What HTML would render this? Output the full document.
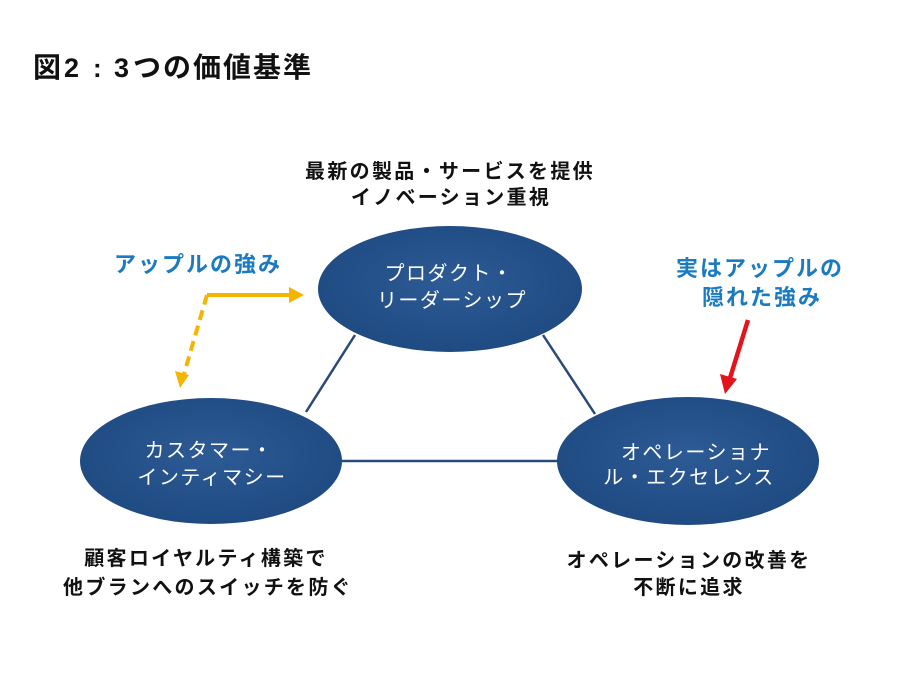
<!DOCTYPE html>
<html><head><meta charset="utf-8">
<style>
html,body{margin:0;padding:0;background:#fff;}
svg{display:block;}
text{font-family:"Liberation Sans","Noto Sans CJK JP",sans-serif;}
</style></head>
<body>
<svg width="900" height="674" viewBox="0 0 900 674" xmlns="http://www.w3.org/2000/svg">
<defs>
<radialGradient id="g" cx="50%" cy="45%" r="55%">
<stop offset="0%" stop-color="#2d5b95"/>
<stop offset="100%" stop-color="#1f4a82"/>
</radialGradient>
</defs>
<rect width="900" height="674" fill="#fff"/>
<!-- title -->
<text y="77" font-size="28" font-weight="bold" fill="#111"><tspan x="33">図</tspan><tspan x="64" font-family="Liberation Sans, sans-serif" font-size="27" font-weight="900">2</tspan><tspan x="93" font-family="Liberation Sans, sans-serif" font-size="26">:</tspan><tspan x="114" font-family="Liberation Sans, sans-serif" font-size="27" font-weight="900">3</tspan><tspan x="133" letter-spacing="2">つの価値基準</tspan></text>

<!-- connectors -->
<g stroke="#284a7a" stroke-width="2.5" fill="none">
<line x1="355" y1="335" x2="306" y2="412"/>
<line x1="543" y1="335" x2="595" y2="414"/>
<line x1="340" y1="461" x2="560" y2="461"/>
</g>

<!-- ellipses -->
<ellipse cx="450" cy="289" rx="132" ry="63" fill="url(#g)"/>
<ellipse cx="211" cy="461" rx="131" ry="63" fill="url(#g)"/>
<ellipse cx="688" cy="461" rx="131" ry="64" fill="url(#g)"/>

<!-- ellipse labels -->
<g fill="#fff" font-size="20" text-anchor="middle" letter-spacing="1.5">
<text x="449" y="280">プロダクト・</text>
<text x="452" y="307">リーダーシップ</text>
<text x="209" y="457">カスタマー・</text>
<text x="212" y="484">インティマシー</text>
<text x="696" y="459">オペレーショナ</text>
<text x="689" y="484">ル・エクセレンス</text>
</g>

<!-- black descriptive labels -->
<g fill="#111" font-size="20" font-weight="bold" text-anchor="middle" letter-spacing="2.3">
<text x="450" y="178">最新の製品・サービスを提供</text>
<text x="451" y="204">イノベーション重視</text>
<text x="206" y="565">顧客ロイヤルティ構築で</text>
<text x="208" y="594">他ブランへのスイッチを防ぐ</text>
<text x="689" y="567">オペレーションの改善を</text>
<text x="689" y="594">不断に追求</text>
</g>

<!-- blue labels -->
<g fill="#1b7bc2" font-size="22" font-weight="bold" text-anchor="middle" letter-spacing="2">
<text x="198" y="272">アップルの強み</text>
<text x="760" y="276">実はアップルの</text>
<text x="762" y="305">隠れた強み</text>
</g>

<!-- yellow arrows -->
<g stroke="#f5b400" stroke-width="4" fill="none">
<line x1="207" y1="295" x2="292" y2="295"/>
<line x1="207" y1="295" x2="184" y2="374" stroke-dasharray="10 6"/>
</g>
<polygon points="304,295 289,287 289,303" fill="#f5b400"/>
<polygon points="180,388 175,371 189,375" fill="#f5b400"/>

<!-- red arrow -->
<line x1="748" y1="320" x2="730" y2="378" stroke="#e3141b" stroke-width="4.5"/>
<polygon points="725,394 720,374 737,379" fill="#e3141b"/>
</svg>
</body></html>
